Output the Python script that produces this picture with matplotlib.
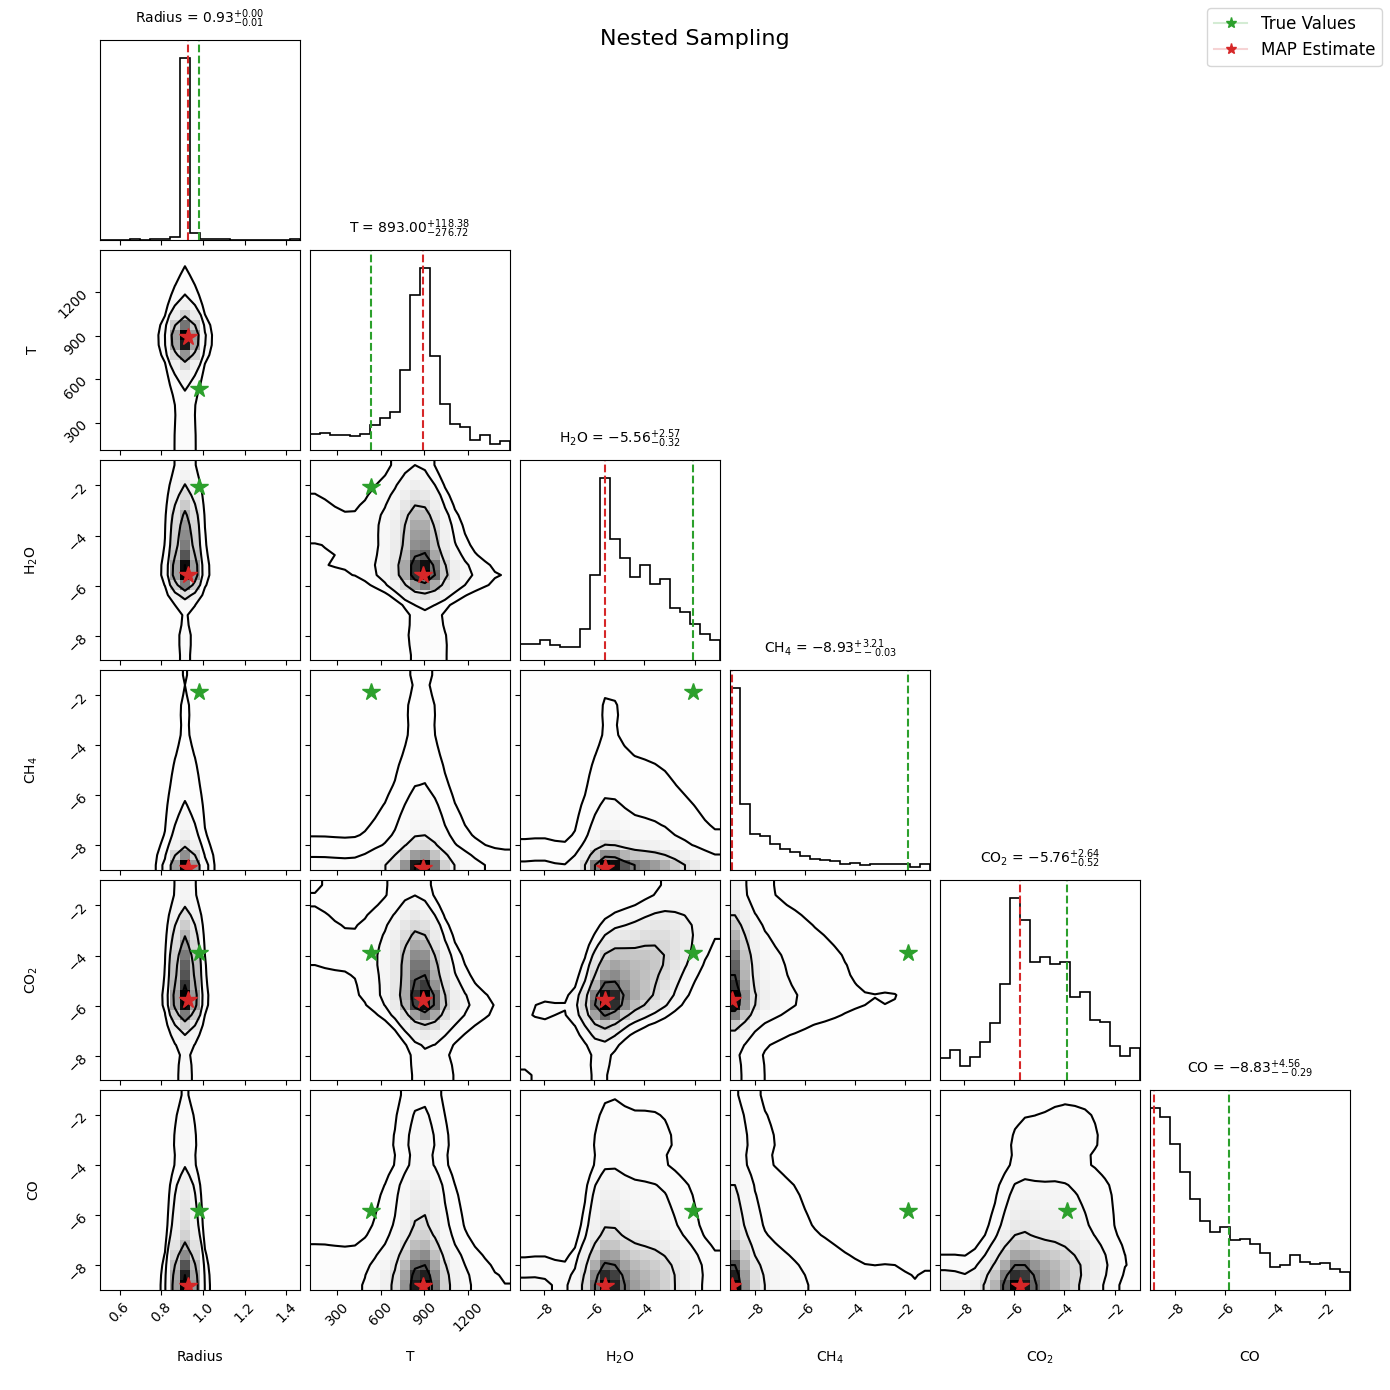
import numpy as np
import matplotlib.pyplot as plt
from matplotlib.colors import LinearSegmentedColormap
from matplotlib.lines import Line2D
from statistics import NormalDist

# parametros
labels = ["Radius", "T", r"H$_2$O", r"CH$_4$", r"CO$_2$", "CO"]
ranges = [(0.506, 1.465), (110, 1490), (-8.94, -0.99),
          (-9.00, -0.99), (-8.94, -1.00), (-8.98, -1.02)]
tick_vals = [[0.6, 0.8, 1.0, 1.2, 1.4], [300, 600, 900, 1200],
             [-8, -6, -4, -2], [-8, -6, -4, -2], [-8, -6, -4, -2], [-8, -6, -4, -2]]

# histogramas marginales (20 bins)
hist_radius = [1, 0, 1, 3, 1, 3, 3, 10, 544, 20, 4, 2, 4, 1, 1, 1, 1, 1, 0, 2]
hist_T = [47, 50, 44, 46, 42, 47, 74, 96, 114, 239, 466, 546, 282, 139, 78, 68, 30, 44, 17, 27]
hist_h2o = [49, 49, 59, 44, 38, 38, 92, 254, 546, 363, 307, 249, 284, 227, 244, 157, 145, 109, 77, 59]
hist_ch4 = [546, 198, 108, 102, 77, 62, 55, 41, 33, 30, 27, 18, 21, 14, 17, 17, 17, 17, 9, 18]
hist_co2 = [65, 89, 41, 68, 114, 170, 287, 546, 482, 354, 371, 350, 354, 248, 265, 179, 173, 103, 72, 95]
hist_co = [545, 520, 437, 353, 273, 208, 175, 189, 149, 152, 138, 110, 68, 75, 104, 84, 78, 80, 62, 54]
hists = [hist_radius, hist_T, hist_h2o, hist_ch4, hist_co2, hist_co]

truths = [0.98, 530, -2.08, -1.87, -3.90, -5.82]
map_est = [0.93, 893.00, -5.56, -8.93, -5.76, -8.83]
err_minus = [0.01, 276.72, 0.32, -0.03, 0.52, -0.29]
err_plus = [0.00, 118.38, 2.57, 3.21, 2.64, 4.56]

# correlacion aproximada entre pares (fila, columna)
corr = [
    [0, 0, 0, 0, 0, 0],
    [0, 0, 0, 0, 0, 0],
    [0, -0.3, 0, 0, 0, 0],
    [0, 0, 0, 0, 0, 0],
    [0, -0.4, 0.6, 0, 0, 0],
    [0, 0, 0.15, 0, 0.3, 0],
]

sigmas = [0.5, 1.0, 1.5, 2.0]
levels = 1.0 - np.exp(-0.5 * np.array(sigmas) ** 2)
green = "#2ca02c"
red = "#d62728"
nd = NormalDist()


def normal_scores(p):
    cdf = np.cumsum(p) - 0.5 * p
    cdf = np.clip(cdf, 1e-4, 1 - 1e-4)
    return np.array([nd.inv_cdf(c) for c in cdf])


def smooth2d(H, sigma=1.0):
    r = int(4 * sigma + 0.5)
    k = np.exp(-0.5 * (np.arange(-r, r + 1) / sigma) ** 2)
    k /= k.sum()
    Hp = np.pad(H, r, mode="symmetric")
    Hp = np.apply_along_axis(lambda v: np.convolve(v, k, mode="valid"), 0, Hp)
    Hp = np.apply_along_axis(lambda v: np.convolve(v, k, mode="valid"), 1, Hp)
    return Hp


def joint(hx, hy, rho):
    px = np.array(hx, float); px /= px.sum()
    py = np.array(hy, float); py /= py.sum()
    zx, zy = np.meshgrid(normal_scores(px), normal_scores(py), indexing="ij")
    c = np.exp(-(rho ** 2 * (zx ** 2 + zy ** 2) - 2 * rho * zx * zy) / (2 * (1 - rho ** 2)))
    c /= np.sqrt(1 - rho ** 2)
    return np.outer(px, py) * c


# negro -> blanco transparente, como en corner
density_cmap = LinearSegmentedColormap.from_list("dens", [(0, 0, 0, 1), (1, 1, 1, 0)])

fig, axes = plt.subplots(6, 6, figsize=(13.9, 13.9), dpi=100)
fig.subplots_adjust(left=0.0719, right=0.9712, bottom=0.0719, top=0.9712,
                    wspace=0.05, hspace=0.05)

n = len(labels)
for i in range(n):
    for j in range(n):
        ax = axes[i, j]
        if j > i:
            ax.set_axis_off()
            continue

        xe = np.linspace(ranges[j][0], ranges[j][1], 21)

        if i == j:
            h = np.array(hists[i], float)
            ax.stairs(h, xe, color="k", lw=1.2)
            ax.set_xlim(ranges[j])
            ax.set_ylim(0, 1.1 * h.max())
            ax.set_yticks([])
            ax.axvline(truths[i], color=green, ls="--", lw=1.5)
            ax.axvline(map_est[i], color=red, ls="--", lw=1.5)
            title = "{0} = ${1:.2f}_{{-{2:.2f}}}^{{+{3:.2f}}}$".format(
                labels[i], map_est[i], err_minus[i], err_plus[i])
            ax.set_title(title, fontsize=10, pad=12)
        else:
            ye = np.linspace(ranges[i][0], ranges[i][1], 21)
            H = smooth2d(joint(hists[j], hists[i], corr[i][j]), 1.0)

            Hflat = np.sort(H.flatten())[::-1]
            sm = np.cumsum(Hflat)
            sm /= sm[-1]
            V = np.array([Hflat[sm <= v0][-1] if np.any(sm <= v0) else Hflat[0] for v0 in levels])
            V.sort()

            ax.pcolormesh(xe, ye, H.max() - H.T, cmap=density_cmap,
                          vmin=0, vmax=H.max())

            X1 = 0.5 * (xe[1:] + xe[:-1])
            Y1 = 0.5 * (ye[1:] + ye[:-1])
            H2 = H.min() + np.zeros((H.shape[0] + 4, H.shape[1] + 4))
            H2[2:-2, 2:-2] = H
            H2[2:-2, 1] = H[:, 0]
            H2[2:-2, -2] = H[:, -1]
            H2[1, 2:-2] = H[0]
            H2[-2, 2:-2] = H[-1]
            H2[1, 1] = H[0, 0]
            H2[1, -2] = H[0, -1]
            H2[-2, 1] = H[-1, 0]
            H2[-2, -2] = H[-1, -1]
            dx = X1[1] - X1[0]
            dy = Y1[1] - Y1[0]
            X2 = np.concatenate([X1[0] + np.array([-2, -1]) * dx, X1, X1[-1] + np.array([1, 2]) * dx])
            Y2 = np.concatenate([Y1[0] + np.array([-2, -1]) * dy, Y1, Y1[-1] + np.array([1, 2]) * dy])
            ax.contour(X2, Y2, H2.T, V, colors="k", linewidths=1.5)

            ax.plot(truths[j], truths[i], "*", color=green, ms=13)
            ax.plot(map_est[j], map_est[i], "*", color=red, ms=13)
            ax.set_xlim(ranges[j])
            ax.set_ylim(ranges[i])
            ax.set_yticks(tick_vals[i])
            if j == 0:
                ax.tick_params(axis="y", labelrotation=45)
                ax.set_ylabel(labels[i], fontsize=10)
                ax.yaxis.set_label_coords(-0.3, 0.5)
            else:
                ax.set_yticklabels([])

        ax.set_xticks(tick_vals[j])
        if i == n - 1:
            ax.tick_params(axis="x", labelrotation=45)
            ax.set_xlabel(labels[j], fontsize=10)
            ax.xaxis.set_label_coords(0.5, -0.3)
        else:
            ax.set_xticklabels([])

fig.suptitle("Nested Sampling", fontsize=16, y=0.979)

handles = [
    Line2D([0], [0], color=(0.17, 0.63, 0.17, 0.2), marker="*", ms=8,
           markerfacecolor=green, markeredgecolor=green),
    Line2D([0], [0], color=(0.84, 0.15, 0.16, 0.2), marker="*", ms=8,
           markerfacecolor=red, markeredgecolor=red),
]
fig.legend(handles, ["True Values", "MAP Estimate"], loc="upper right", fontsize=12)

fig.savefig("out.png", dpi=100)
